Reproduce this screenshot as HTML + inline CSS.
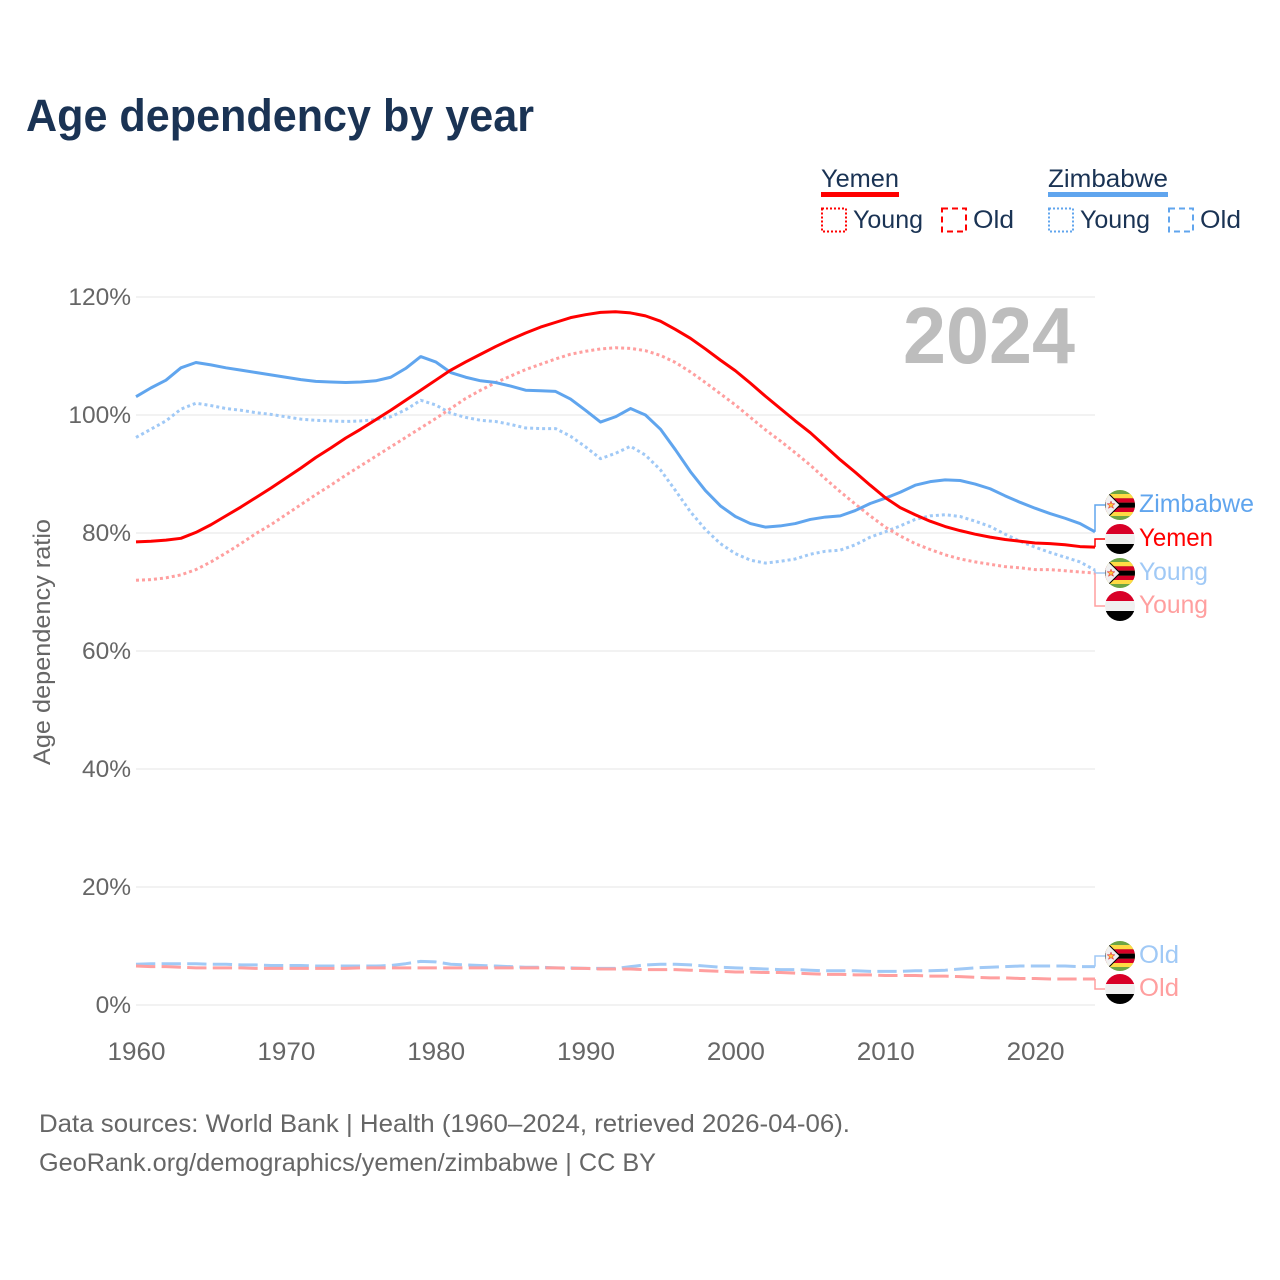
<!DOCTYPE html>
<html lang="en">
<head>
<meta charset="utf-8">
<title>Age dependency by year</title>
<style>
html,body{margin:0;padding:0;background:#fff}
svg{display:block}
text{font-family:"Liberation Sans",sans-serif}
</style>
</head>
<body>
<svg id="chart" xmlns="http://www.w3.org/2000/svg" width="1280" height="1280" viewBox="0 0 1280 1280">
<defs>
<clipPath id="flag-clip"><circle cx="0" cy="0" r="15"/></clipPath>
<g id="flag-zim" clip-path="url(#flag-clip)">
<rect x="-15" y="-15" width="30" height="30" fill="#6da544"/>
<rect x="-15" y="-11" width="30" height="4.3" fill="#ffda44"/>
<rect x="-15" y="-6.7" width="30" height="4.4" fill="#d80027"/>
<rect x="-15" y="-2.3" width="30" height="5" fill="#000"/>
<rect x="-15" y="2.7" width="30" height="4.3" fill="#d80027"/>
<rect x="-15" y="7" width="30" height="4" fill="#ffda44"/>
<path d="M-15,-15 L0,0 L-15,15 Z" fill="#f0f0f0" stroke="#000" stroke-width="1"/>
<path d="M-9,-3.8 L-8,-1.2 L-5.2,-1.2 L-7.4,0.6 L-6.6,3.3 L-9,1.7 L-11.4,3.3 L-10.6,0.6 L-12.8,-1.2 L-10,-1.2 Z" fill="#ffc93c" stroke="#d80027" stroke-width="0.5"/>
</g>
<g id="flag-yem" clip-path="url(#flag-clip)">
<rect x="-15" y="-15" width="30" height="10" fill="#d80027"/>
<rect x="-15" y="-5" width="30" height="10" fill="#f0f0f0"/>
<rect x="-15" y="5" width="30" height="10" fill="#000"/>
</g>
</defs>

<text x="26" y="131" font-size="45" font-weight="700" fill="#1a3354" textLength="508" lengthAdjust="spacingAndGlyphs">Age dependency by year</text>

<g font-size="25" fill="#1a3354">
<text x="821" y="187" textLength="78" lengthAdjust="spacingAndGlyphs">Yemen</text>
<rect x="821" y="192" width="78" height="5" fill="#ff0000"/>
<rect x="822" y="208.5" width="24" height="23" fill="none" stroke="#ff0000" stroke-width="2" stroke-dasharray="2 2"/>
<text x="853" y="228" textLength="70" lengthAdjust="spacingAndGlyphs">Young</text>
<rect x="942" y="208.5" width="24" height="23" fill="none" stroke="#ff0000" stroke-width="2" stroke-dasharray="6 4"/>
<text x="973" y="228" textLength="41" lengthAdjust="spacingAndGlyphs">Old</text>
<text x="1048" y="187" textLength="120" lengthAdjust="spacingAndGlyphs">Zimbabwe</text>
<rect x="1048" y="192" width="120" height="5" fill="#60a5ee"/>
<rect x="1049" y="208.5" width="24" height="23" fill="none" stroke="#60a5ee" stroke-width="2" stroke-dasharray="2 2"/>
<text x="1080" y="228" textLength="70" lengthAdjust="spacingAndGlyphs">Young</text>
<rect x="1169" y="208.5" width="24" height="23" fill="none" stroke="#60a5ee" stroke-width="2" stroke-dasharray="6 4"/>
<text x="1200" y="228" textLength="41" lengthAdjust="spacingAndGlyphs">Old</text>
</g>

<text x="903" y="363" font-size="80" font-weight="700" fill="#bdbdbd" textLength="172" lengthAdjust="spacingAndGlyphs">2024</text>
<text transform="translate(50,642) rotate(-90)" text-anchor="middle" font-size="24" fill="#666" textLength="246" lengthAdjust="spacingAndGlyphs">Age dependency ratio</text>

<g id="grid"></g>
<g id="yticks"></g>
<g id="xticks"></g>
<g id="series"></g>
<g id="connectors"></g>

<g font-size="25">
<use href="#flag-zim" x="1120" y="505"/>
<text x="1139" y="512" fill="#60a5ee" textLength="115" lengthAdjust="spacingAndGlyphs">Zimbabwe</text>
<use href="#flag-yem" x="1120" y="539"/>
<text x="1139" y="546" fill="#ff0000" textLength="74" lengthAdjust="spacingAndGlyphs">Yemen</text>
<use href="#flag-zim" x="1120" y="573"/>
<text x="1139" y="580" fill="#a0c9f6" textLength="69" lengthAdjust="spacingAndGlyphs">Young</text>
<use href="#flag-yem" x="1120" y="606"/>
<text x="1139" y="613" fill="#ff9f9f" textLength="69" lengthAdjust="spacingAndGlyphs">Young</text>
<use href="#flag-zim" x="1120" y="956"/>
<text x="1139" y="963" fill="#a0c9f6" textLength="40" lengthAdjust="spacingAndGlyphs">Old</text>
<use href="#flag-yem" x="1120" y="989"/>
<text x="1139" y="996" fill="#ff9f9f" textLength="40" lengthAdjust="spacingAndGlyphs">Old</text>
</g>

<g font-size="25" fill="#666">
<text x="39" y="1132" textLength="811" lengthAdjust="spacingAndGlyphs">Data sources: World Bank | Health (1960–2024, retrieved 2026-04-06).</text>
<text x="39" y="1171" textLength="617" lengthAdjust="spacingAndGlyphs">GeoRank.org/demographics/yemen/zimbabwe | CC BY</text>
</g>
</svg>

<script>
const startYear = 1960;
const endYear = 2024;
const yTickValues = [0, 20, 40, 60, 80, 100, 120];
const xTickYears = [1960, 1970, 1980, 1990, 2000, 2010, 2020];

const zimbabweTotal = [103.1,104.6,105.9,108.0,108.9,108.5,108.0,107.6,107.2,106.8,106.4,106.0,105.7,105.6,105.5,105.6,105.8,106.4,107.9,109.9,109.0,107.2,106.4,105.8,105.5,104.9,104.2,104.1,104.0,102.7,100.8,98.8,99.7,101.1,100.0,97.6,94.1,90.4,87.2,84.6,82.8,81.6,81.0,81.2,81.6,82.3,82.7,82.9,83.8,85.0,85.9,86.9,88.1,88.7,89.0,88.9,88.3,87.5,86.3,85.2,84.2,83.3,82.5,81.6,80.2];
const zimbabweYoung = [96.2,97.6,99.0,101.0,102.0,101.6,101.1,100.8,100.4,100.1,99.7,99.3,99.1,99.0,98.9,99.0,99.2,99.7,100.9,102.5,101.7,100.3,99.6,99.1,98.9,98.4,97.8,97.7,97.7,96.4,94.6,92.6,93.5,94.7,93.2,90.7,87.2,83.6,80.6,78.2,76.5,75.4,74.9,75.2,75.6,76.4,76.9,77.1,78.0,79.3,80.2,81.2,82.3,82.9,83.1,82.8,82.0,81.1,79.8,78.6,77.6,76.7,75.9,75.1,73.7];
const zimbabweOld = [6.9,7.0,7.0,7.0,7.0,6.9,6.9,6.8,6.8,6.7,6.7,6.7,6.6,6.6,6.6,6.6,6.6,6.7,7.0,7.4,7.3,6.9,6.8,6.7,6.6,6.5,6.4,6.4,6.3,6.3,6.2,6.2,6.2,6.5,6.8,6.9,6.9,6.8,6.6,6.4,6.3,6.2,6.1,6.0,6.0,5.9,5.8,5.8,5.8,5.7,5.7,5.7,5.8,5.8,5.9,6.1,6.3,6.4,6.5,6.6,6.6,6.6,6.6,6.5,6.5];
const yemenTotal = [78.5,78.6,78.8,79.1,80.1,81.4,82.9,84.4,86.0,87.6,89.3,91.0,92.8,94.4,96.1,97.6,99.2,100.8,102.5,104.2,105.9,107.6,109.0,110.3,111.6,112.8,113.9,114.9,115.7,116.5,117.0,117.4,117.5,117.3,116.8,115.9,114.5,113.0,111.2,109.3,107.5,105.4,103.2,101.1,99.0,97.0,94.7,92.4,90.3,88.1,86.0,84.3,83.1,82.0,81.1,80.4,79.8,79.3,78.9,78.6,78.3,78.2,78.0,77.7,77.6];
const yemenYoung = [72.0,72.1,72.4,72.9,73.8,75.1,76.6,78.2,79.9,81.4,83.1,84.8,86.5,88.1,89.8,91.4,93.0,94.6,96.2,97.8,99.4,101.1,102.8,104.2,105.5,106.6,107.7,108.6,109.5,110.3,110.8,111.2,111.4,111.3,110.9,110.1,108.9,107.3,105.5,103.6,101.7,99.6,97.5,95.6,93.6,91.5,89.2,87.0,84.9,82.9,81.0,79.5,78.2,77.2,76.3,75.6,75.1,74.7,74.3,74.1,73.8,73.8,73.6,73.4,73.2];
const yemenOld = [6.6,6.5,6.5,6.4,6.3,6.3,6.3,6.3,6.2,6.2,6.2,6.2,6.2,6.2,6.2,6.3,6.3,6.3,6.3,6.3,6.3,6.3,6.3,6.3,6.3,6.3,6.3,6.3,6.3,6.2,6.2,6.1,6.1,6.1,6.0,6.0,6.0,5.9,5.8,5.7,5.6,5.6,5.5,5.5,5.4,5.3,5.2,5.2,5.1,5.1,5.0,5.0,5.0,4.9,4.9,4.8,4.7,4.6,4.6,4.5,4.5,4.4,4.4,4.4,4.4];

const SVGNS = 'http://www.w3.org/2000/svg';
const plotLeft = 136, plotRight = 1095, plotZero = 1005, plotTop = 297;

function xScale(year) {
  return plotLeft + (year - startYear) * (plotRight - plotLeft) / (endYear - startYear);
}
function yScale(v) {
  return plotZero + (plotTop - plotZero) * v / 120;
}
function make(tag, attrs, parent) {
  const el = document.createElementNS(SVGNS, tag);
  for (const k in attrs) el.setAttribute(k, attrs[k]);
  parent.appendChild(el);
  return el;
}

const gridG = document.getElementById('grid');
const yTickG = document.getElementById('yticks');
yTickValues.forEach(function (v) {
  const line = make('line', {x1: plotLeft, x2: plotRight, y1: yScale(v), y2: yScale(v), stroke: '#e6e6e6', 'stroke-width': 1}, gridG);
  
  
  const t = make('text', {x: 131, y: yScale(v) + 8, 'text-anchor': 'end', 'font-size': 24.5, fill: '#666'}, yTickG);
  t.textContent = v + '%';
  
  
});

const xTickG = document.getElementById('xticks');
xTickYears.forEach(function (yr) {
  const t = make('text', {x: xScale(yr) + 0.5, y: 1060, 'text-anchor': 'middle', 'font-size': 25, fill: '#666', textLength: 58, lengthAdjust: 'spacingAndGlyphs'}, xTickG);
  t.textContent = yr;
  
  
});

function pathFor(values) {
  return values.map(function (v, i) {
    return (i ? 'L' : 'M') + xScale(startYear + i).toFixed(2) + ',' + yScale(v).toFixed(2);
  }).join(' ');
}

const seriesG = document.getElementById('series');
function drawSeries(values, color, width, dash, name) {
  const attrs = {d: pathFor(values), fill: 'none', stroke: color, 'stroke-width': width, 'stroke-linejoin': 'round'};
  if (dash) attrs['stroke-dasharray'] = dash;
  const p = make('path', attrs, seriesG);
  
  
}
drawSeries(zimbabweOld, '#a0c9f6', 3, '19.3 6.3', 'line-zimbabwe-old');
drawSeries(yemenOld, '#ff9f9f', 3, '19.3 6.3', 'line-yemen-old');
drawSeries(zimbabweYoung, '#a0c9f6', 3, '3 3', 'line-zimbabwe-young');
drawSeries(yemenYoung, '#ff9f9f', 3, '3 3', 'line-yemen-young');
drawSeries(zimbabweTotal, '#60a5ee', 3, '', 'line-zimbabwe-total');
drawSeries(yemenTotal, '#ff0000', 3, '', 'line-yemen-total');

const connG = document.getElementById('connectors');
function drawConnector(values, labelY, color, name) {
  const last = values[values.length - 1];
  const d = 'M' + plotRight + ',' + yScale(last).toFixed(2) + ' V' + labelY + ' H1105';
  const p = make('path', {d: d, fill: 'none', stroke: color, 'stroke-width': 1.5}, connG);
  
  
}
drawConnector(zimbabweTotal, 505, '#60a5ee', 'connector-zimbabwe-total');
drawConnector(yemenTotal, 539, '#ff0000', 'connector-yemen-total');
drawConnector(zimbabweYoung, 573, '#a0c9f6', 'connector-zimbabwe-young');
drawConnector(yemenYoung, 606, '#ff9f9f', 'connector-yemen-young');
drawConnector(zimbabweOld, 956, '#a0c9f6', 'connector-zimbabwe-old');
drawConnector(yemenOld, 989, '#ff9f9f', 'connector-yemen-old');
</script>
</body>
</html>
